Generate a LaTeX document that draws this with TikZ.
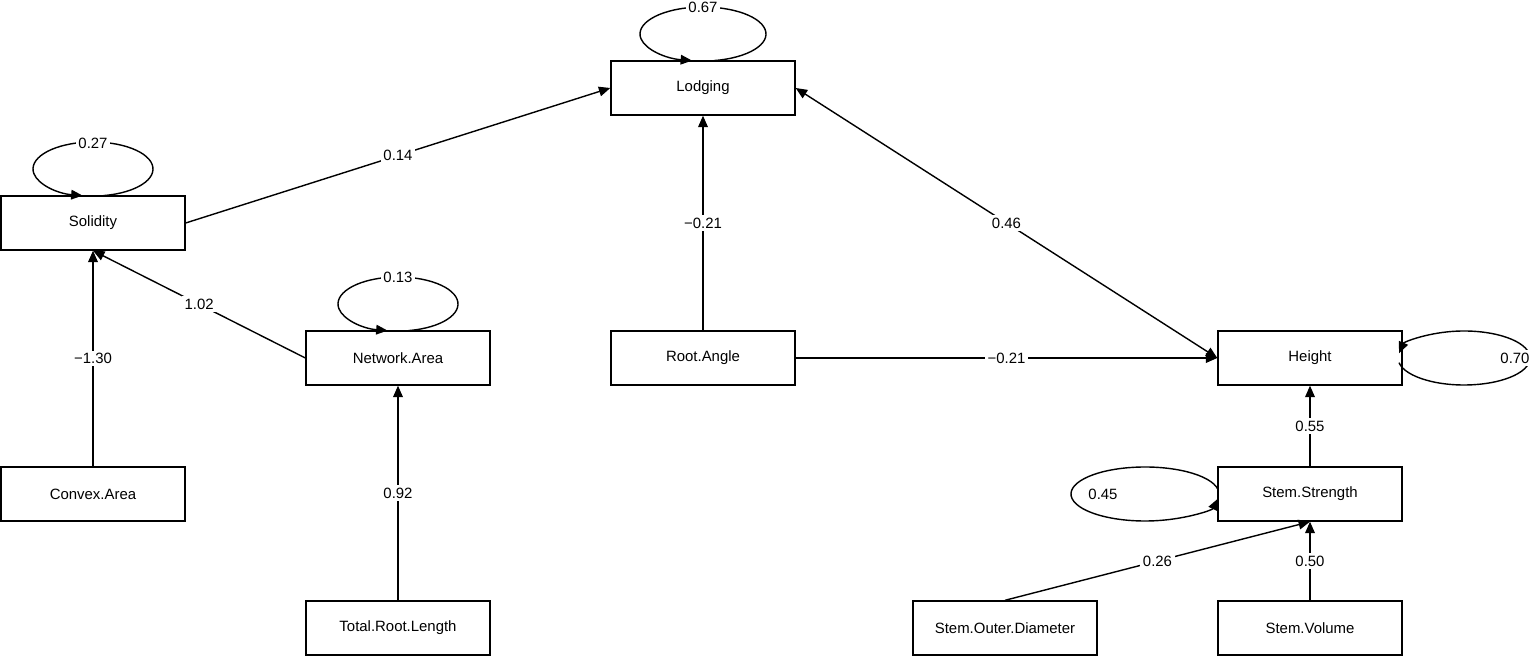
\documentclass[tikz,border=0pt]{standalone}
\usepackage{fontspec}
\setmainfont{Liberation Sans}
\usetikzlibrary{arrows.meta}
\begin{document}
\begin{tikzpicture}[x=0.02cm,y=0.02cm,
  box/.style={draw,line width=0.8pt,minimum width=3.68cm,minimum height=1.08cm,inner sep=0pt,font=\fontsize{8.5}{10}\selectfont},
  lab/.style={fill=white,inner sep=1.5pt,font=\fontsize{8.5}{10}\selectfont},
  ed/.style={line width=0.8pt,-{Triangle[length=6.5pt,width=5.5pt]}},
  lp/.style={line width=0.8pt,-{Triangle[length=6.5pt,width=5.5pt]}}]
\useasboundingbox (0,0) rectangle (1535,659);
\node[box] (lod) at (703,571) {Lodging};
\node[box] (sol) at (93,436) {Solidity};
\node[box] (net) at (398,301) {Network.Area};
\node[box] (ra) at (703,301) {Root.Angle};
\node[box] (hei) at (1310,301) {Height};
\node[box] (cvx) at (93,165) {Convex.Area};
\node[box] (trl) at (398,31) {Total.Root.Length};
\node[box] (ss) at (1310,165) {Stem.Strength};
\node[box] (sod) at (1005,31) {Stem.Outer.Diameter};
\node[box] (sv) at (1310,31) {Stem.Volume};
% self loops
\coordinate (c1) at (703,625);
\draw[lp] ([shift={(280:63 and 27)}]c1) arc[start angle=280,end angle=620,x radius=63,y radius=27];
\node[lab] (l1) at (703,652) {0.67};
\coordinate (c2) at (93,490);
\draw[lp] ([shift={(280:60 and 27)}]c2) arc[start angle=280,end angle=620,x radius=60,y radius=27];
\node[lab] (l2) at (93,516) {0.27};
\coordinate (c3) at (398,355);
\draw[lp] ([shift={(280:60 and 27)}]c3) arc[start angle=280,end angle=620,x radius=60,y radius=27];
\node[lab] (l3) at (398,382) {0.13};
\coordinate (c4) at (1464,301);
\draw[lp] ([shift={(190:66 and 27)}]c4) arc[start angle=190,end angle=530,x radius=66,y radius=27];
\node[lab] (l4) at (1515,301) {0.70};
\coordinate (c5) at (1145,165);
\draw[lp] ([shift={(10:74 and 27)}]c5) arc[start angle=10,end angle=350,x radius=74,y radius=27];
\node[lab] (l5) at (1103,165) {0.45};
% edges
\draw[ed] (sol.east) -- node[lab]{0.14} (lod.west);
\draw[ed] (ra.north) -- node[lab]{−0.21} (lod.south);
\draw[ed,{Triangle[length=6.5pt,width=5.5pt]}-{Triangle[length=6.5pt,width=5.5pt]}] (hei.west) -- node[lab]{0.46} (lod.east);
\draw[ed] (ra.east) -- node[lab]{−0.21} (hei.west);
\draw[ed] (net.west) -- node[lab]{1.02} (sol.south);
\draw[ed] (cvx.north) -- node[lab]{−1.30} (sol.south);
\draw[ed] (trl.north) -- node[lab]{0.92} (net.south);
\draw[ed] (ss.north) -- node[lab]{0.55} (hei.south);
\draw[ed] (sv.north) -- node[lab]{0.50} (ss.south);
\draw[ed] (sod.north) -- node[lab]{0.26} (ss.south);
\end{tikzpicture}
\end{document}
